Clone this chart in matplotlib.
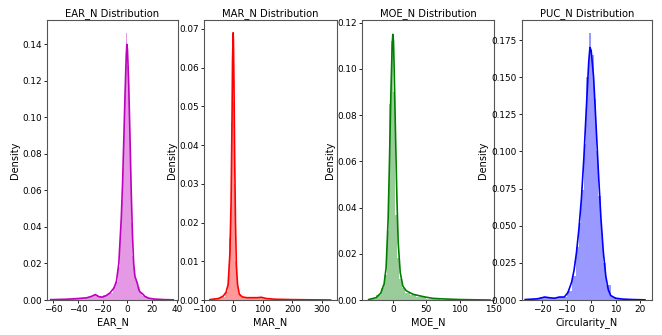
import numpy as np
import matplotlib
matplotlib.use('Agg')
import matplotlib.pyplot as plt

# ---- data ----
titles = ['EAR_N Distribution', 'MAR_N Distribution', 'MOE_N Distribution', 'PUC_N Distribution']
xlabels = ['EAR_N', 'MAR_N', 'MOE_N', 'Circularity_N']
colors = ['m', 'r', 'g', 'b']

# EAR_N
ear_edges = [-62, -50, -40, -32, -28, -24, -20, -16, -12, -10, -8, -6, -5, -4, -3, -2, -1, 0,
             1, 2, 3, 4, 5, 6, 8, 10, 12, 16, 20, 28, 37]
ear_hist = [0.0003, 0.0005, 0.001, 0.0018, 0.003, 0.0018, 0.0025, 0.004, 0.007, 0.010,
            0.018, 0.038, 0.055, 0.072, 0.095, 0.112, 0.146, 0.128, 0.105, 0.068,
            0.042, 0.024, 0.014, 0.011, 0.007, 0.004, 0.002, 0.001, 0.0005, 0.0002]
ear_kde_x = [-62, -50, -40, -33, -29, -26, -23, -20, -17, -14, -11, -9, -7, -5, -4, -3, -2, -1, -0.5, 0,
             1, 2, 3, 4, 5, 6, 7, 8, 9, 10, 12, 14, 17, 22, 30, 37]
ear_kde_y = [0.0002, 0.0004, 0.0008, 0.0012, 0.002, 0.003, 0.0018, 0.0016, 0.0025, 0.004,
             0.0065, 0.01, 0.02, 0.045, 0.063, 0.087, 0.112, 0.134, 0.140, 0.137,
             0.118, 0.09, 0.06, 0.036, 0.02, 0.013, 0.011, 0.009, 0.006, 0.0045,
             0.0035, 0.002, 0.001, 0.0005, 0.0002, 0.0001]

# MAR_N
mar_edges = [-80, -50, -30, -20, -14, -9, -4, 1, 6, 11, 16, 25, 40, 60, 80, 100, 130, 200, 330]
mar_hist = [0.0002, 0.0008, 0.002, 0.005, 0.016, 0.046, 0.051, 0.030, 0.010, 0.004,
            0.0015, 0.0008, 0.0006, 0.0006, 0.0007, 0.0003, 0.0001, 0.00003]
mar_kde_x = [-80, -50, -35, -25, -18, -12, -8, -5, -3, -1, 0, 2, 4, 7, 10, 14, 20, 30, 45, 60,
             80, 95, 110, 140, 200, 260, 330]
mar_kde_y = [0.0001, 0.0004, 0.001, 0.002, 0.004, 0.012, 0.025, 0.045, 0.062, 0.069,
             0.067, 0.055, 0.038, 0.02, 0.009, 0.004, 0.0015, 0.0008, 0.0006, 0.0006,
             0.0006, 0.0007, 0.0004, 0.0002, 0.0001, 0.00005, 0.0]

# MOE_N
moe_edges = [-36, -25, -18, -13, -9, -6, -3, 0, 3, 6, 9, 13, 18, 25, 35, 50, 70, 100, 145]
moe_hist = [0.0005, 0.002, 0.005, 0.011, 0.03, 0.085, 0.112, 0.09, 0.037, 0.018,
            0.009, 0.005, 0.003, 0.002, 0.0013, 0.0006, 0.0002, 0.00005]
moe_kde_x = [-36, -25, -18, -13, -10, -7, -5, -3, -1, 0, 1, 2, 4, 6, 8, 11, 15, 20, 30, 40,
             50, 60, 80, 100, 120, 145]
moe_kde_y = [0.0002, 0.001, 0.003, 0.007, 0.014, 0.035, 0.06, 0.088, 0.110, 0.115,
             0.112, 0.10, 0.072, 0.045, 0.025, 0.012, 0.006, 0.004, 0.0025, 0.0018,
             0.0012, 0.0007, 0.0004, 0.0002, 0.0001, 0.0]

# PUC_N
puc_edges = [-27, -21, -17, -13, -10, -8, -6, -5, -4, -3, -2, -1, 0, 1, 2, 3, 4, 5, 6, 8, 10, 14, 22]
puc_hist = [0.0006, 0.0017, 0.0013, 0.002, 0.006, 0.016, 0.036, 0.052, 0.074, 0.105,
            0.15, 0.18, 0.165, 0.135, 0.10, 0.07, 0.045, 0.025, 0.01, 0.002,
            0.0008, 0.0003]
puc_kde_x = [-27, -22, -19, -17, -15, -13, -11, -9.5, -8, -7, -6, -5, -4, -3, -2, -1, -0.5, 0,
             1, 2, 3, 4, 5, 6, 7, 8, 10, 13, 17, 22]
puc_kde_y = [0.0003, 0.0008, 0.002, 0.0015, 0.0012, 0.002, 0.002, 0.005, 0.012, 0.02,
             0.032, 0.048, 0.068, 0.095, 0.128, 0.160, 0.170, 0.168, 0.150, 0.118,
             0.085, 0.055, 0.032, 0.016, 0.007, 0.003, 0.0012, 0.0006, 0.0003, 0.0001]

edges = [ear_edges, mar_edges, moe_edges, puc_edges]
hists = [ear_hist, mar_hist, moe_hist, puc_hist]
kde_x = [ear_kde_x, mar_kde_x, moe_kde_x, puc_kde_x]
kde_y = [ear_kde_y, mar_kde_y, moe_kde_y, puc_kde_y]

xlims = [(-65, 40.8), (-99, 352), (-46, 151), (-28.3, 24.9)]
ylims = [0.1533, 0.0723, 0.1212, 0.1885]
xticks = [[-60, -40, -20, 0, 20, 40], [-100, 0, 100, 200, 300], [0, 50, 100, 150], [-20, -10, 0, 10, 20]]
yticks = [np.arange(0, 0.141, 0.02), np.arange(0, 0.071, 0.01), np.arange(0, 0.121, 0.02), np.arange(0, 0.176, 0.025)]
yfmt = ['%.2f', '%.2f', '%.2f', '%.3f']

plt.rcParams['font.family'] = ['DejaVu Sans']
plt.rcParams['font.size'] = 7

fig = plt.figure(figsize=(6.62, 3.35), dpi=100)
lefts = [47, 204, 362, 522]
rights = [178, 337, 494, 652]
ylab_off = [27, 27, 27, 34]   # px left of the axes for the right edge of "Density"

for i in range(4):
    w = rights[i] - lefts[i]
    ax = fig.add_axes([lefts[i] / 662, 35 / 335, w / 662, 280 / 335])
    e = np.array(edges[i])
    ax.bar(e[:-1], hists[i], width=np.diff(e), align='edge', color=colors[i], alpha=0.4, linewidth=0)
    ax.plot(kde_x[i], kde_y[i], color=colors[i], lw=1.2)
    ax.set_xlim(*xlims[i])
    ax.set_ylim(0, ylims[i])
    ax.set_xticks(xticks[i])
    ax.set_yticks(yticks[i])
    ax.set_yticklabels([yfmt[i] % v for v in yticks[i]])
    ax.set_title(titles[i], fontsize=7.2, pad=3)
    ax.set_xlabel(xlabels[i], labelpad=2)
    ax.set_ylabel('Density')
    ax.yaxis.set_label_coords(-ylab_off[i] / w, 0.5)
    ax.tick_params(length=2.5, width=0.6, pad=1.2, labelsize=6.4)
    for s in ax.spines.values():
        s.set_color('#555555')
        s.set_linewidth(0.8)

fig.savefig('out.png', dpi=100)
